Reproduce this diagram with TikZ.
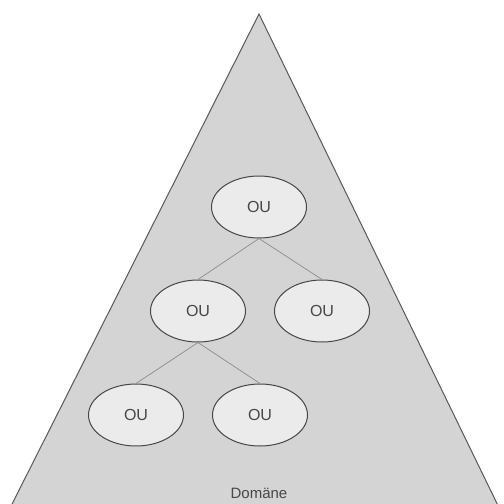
\documentclass[tikz,border=0pt]{standalone}
\usepackage{fontspec}
\setmainfont{Liberation Sans}
\usetikzlibrary{shapes.geometric}
\begin{document}
\begin{tikzpicture}[x=1pt,y=-1pt,
  ou/.style={ellipse,draw=black!72,line width=1pt,fill=black!8,minimum width=95pt,minimum height=62pt,inner sep=0pt,text=black!72,font=\fontsize{16}{18}\selectfont},
  link/.style={draw=black!45,line width=0.7pt}]
\useasboundingbox (0,0) rectangle (504,504);
\fill[white] (0,0) rectangle (504,504);
\clip (0,0) rectangle (504,504);
\coordinate (apex) at (259,14);
\coordinate (bl) at (4,520);
\coordinate (br) at (505,520);
\draw[fill=black!17,draw=black!65,line width=1pt,line join=miter] (bl) -- (apex) -- (br) -- cycle;
\node[ou] (t) at (259,207) {OU};
\node[ou] (ml) at (198,311) {OU};
\node[ou] (mr) at (322,311) {OU};
\node[ou] (bl1) at (136,415) {OU};
\node[ou] (br1) at (260,415) {OU};
\draw[link] (t.south) -- (ml.north);
\draw[link] (t.south) -- (mr.north);
\draw[link] (ml.south) -- (bl1.north);
\draw[link] (ml.south) -- (br1.north);
\node[text=black!72,font=\fontsize{15}{17}\selectfont] (d) at (259,493) {Domäne};
\end{tikzpicture}
\end{document}
